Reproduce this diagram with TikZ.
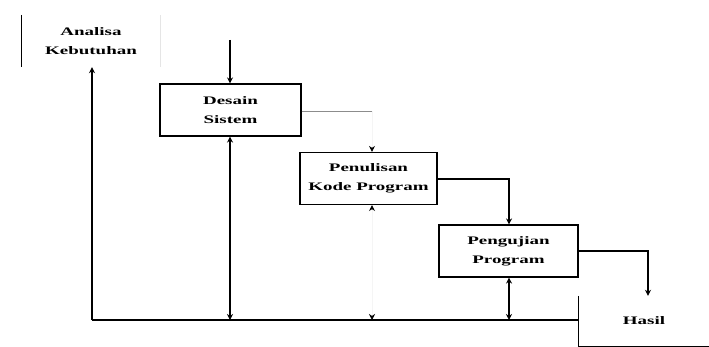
\documentclass[tikz,border=0pt]{standalone}
\usepackage{fontspec}
\setmainfont{Liberation Serif}[FakeStretch=1.65]
\usetikzlibrary{arrows.meta}
\begin{document}
\begin{tikzpicture}[x=1pt,y=-1pt,
  every node/.style={font=\fontsize{11.5}{19}\selectfont\bfseries, align=center, inner sep=0pt},
  stage/.style={draw=black, line width=1.1pt, minimum width=#1, minimum height=52pt},
  conn/.style={line width=1.1pt},
  tip/.style={-{Stealth[length=6pt,width=6pt,color=black]}},
  both/.style={{Stealth[length=6pt,width=6pt,color=black]}-{Stealth[length=6pt,width=6pt,color=black]}},
]
\useasboundingbox (0,0) rectangle (709,347);
% stages
\node[minimum width=138pt, minimum height=52pt] (ana) at (91,41) {Analisa\\Kebutuhan};
\node[stage=141pt] (des) at (230.5,110) {Desain\\Sistem};
\node[stage=137pt] (pen) at (368.5,178.5) {Penulisan\\Kode Program};
\node[stage=139pt] (peng) at (508.5,251) {Pengujian\\Program};
\node[minimum width=130pt, minimum height=50pt] (has) at (644,321) {Hasil};
\draw[conn] (ana.north west) -- (ana.south west);
\draw[black!10, line width=0.8pt] (ana.north east) -- (ana.south east);
\draw[conn] (has.north west) -- (has.south west) -- (has.south east);
% coordinates
\coordinate (top) at (230,40);
\coordinate (bl) at (92,320);
\coordinate (br) at (has.west |- bl);
\coordinate (c1) at (372,111);
\coordinate (c2) at (509,179);
\coordinate (c3) at (648,251);
% connectors
\draw[conn] (bl) -- (br);
\draw[conn, tip] (bl) -- (ana.south -| bl);
\draw[conn, tip] (top) -- (des.north -| top);
\draw[conn, both] (des.south -| top) -- (top |- bl);
\draw[black!45, line width=0.8pt] (des.east |- c1) -- (c1);
\draw[black!4, line width=0.8pt, tip] (c1) -- (pen.north -| c1);
\draw[black!4, line width=0.8pt, both] (pen.south -| c1) -- (c1 |- bl);
\draw[conn, tip] (pen.east |- c2) -- (c2) -- (peng.north -| c2);
\draw[conn, both] (peng.south -| c2) -- (c2 |- bl);
\draw[conn, tip] (peng.east |- c3) -- (c3) -- (has.north -| c3);
\end{tikzpicture}
\end{document}
